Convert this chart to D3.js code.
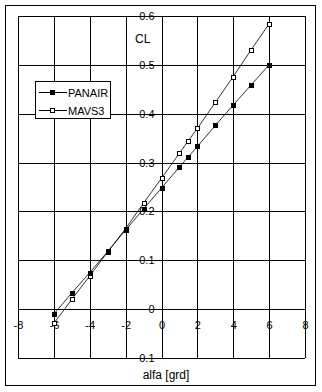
<!DOCTYPE html>
<html>
<head>
<meta charset="utf-8">
<script src="https://cdn.jsdelivr.net/npm/d3@7"></script>
<style>
  body { margin: 0; background: #fff; }
  svg text { font-family: "Liberation Sans", Arial, sans-serif; font-size: 11px; fill: #000; }
</style>
</head>
<body>
<svg id="chart" width="322" height="392"></svg>
<script>
// alpha values (deg) and lift coefficients
var alfa = [-6, -5, -4, -3, -2, -1, 0, 1, 1.5, 2, 3, 4, 5, 6];
var panair = [-0.01, 0.033, 0.075, 0.118, 0.162, 0.205, 0.248, 0.291, 0.312, 0.333, 0.376, 0.418, 0.459, 0.5];
var mavs3 = [-0.029, 0.02, 0.068, 0.117, 0.165, 0.217, 0.268, 0.319, 0.345, 0.37, 0.423, 0.476, 0.531, 0.584];
var xTicks = [-8, -6, -4, -2, 0, 2, 4, 6, 8];
var yTicks = [-0.1, 0, 0.1, 0.2, 0.3, 0.4, 0.5, 0.6];
var seriesNames = ['PANAIR', 'MAVS3'];

var svg = d3.select('#chart');

var x = d3.scaleLinear().domain([-8, 8]).range([18, 305]);
var y = d3.scaleLinear().domain([-0.1, 0.6]).range([358, 16]);

// outer frame
svg.append('rect')
    .attr('x', 5.5).attr('y', 5.5).attr('width', 310).attr('height', 380)
    .attr('fill', '#fff').attr('stroke', '#000');

var grid = svg.append('g').attr('shape-rendering', 'crispEdges').attr('stroke', '#000');

grid.selectAll('line.v').data(xTicks).enter().append('line')
    .attr('class', 'v')
    .attr('x1', d => Math.round(x(d)) + 0.5).attr('x2', d => Math.round(x(d)) + 0.5)
    .attr('y1', y(0.6)).attr('y2', y(-0.1));

grid.selectAll('line.h').data(yTicks).enter().append('line')
    .attr('class', 'h')
    .attr('y1', d => Math.round(y(d)) + 0.5).attr('y2', d => Math.round(y(d)) + 0.5)
    .attr('x1', x(-8)).attr('x2', x(8));

// tick labels sit on the axes through zero, lines run through them
svg.selectAll('text.yt').data(yTicks).enter().append('text')
    .attr('class', 'yt')
    .attr('x', x(0) - 7)
    .attr('y', d => y(d) + 4)
    .attr('text-anchor', 'end')
    .text(d => d === 0 ? '0' : d3.format('.1f')(d));

svg.selectAll('text.xt').data(xTicks).enter().append('text')
    .attr('class', 'xt')
    .attr('x', d => x(d) + 0.5)
    .attr('y', y(0) + 20)
    .attr('text-anchor', 'middle')
    .text(d => d);

svg.append('text').attr('x', 135).attr('y', 43).style('font-size', '12px').text('CL');
svg.append('text').attr('x', 166).attr('y', 379).attr('text-anchor', 'middle')
    .style('font-size', '12px').text('alfa [grd]');

var line = d3.line().x(d => x(d[0])).y(d => y(d[1]));

function drawSeries(vals, filled) {
    var pts = alfa.map((a, i) => [a, vals[i]]);
    svg.append('path').datum(pts)
        .attr('d', line)
        .attr('fill', 'none').attr('stroke', '#000').attr('stroke-width', 0.8);
    var s = filled ? 5 : 4;
    svg.selectAll(null).data(pts).enter().append('rect')
        .attr('x', d => Math.round(x(d[0])) - s / 2 + (filled ? 0 : 0.5))
        .attr('y', d => Math.round(y(d[1])) - s / 2 + (filled ? 0 : 0.5))
        .attr('width', s).attr('height', s)
        .attr('shape-rendering', 'crispEdges')
        .attr('fill', filled ? '#000' : '#fff')
        .attr('stroke', filled ? 'none' : '#000').attr('stroke-width', 1);
}

drawSeries(mavs3, false);
drawSeries(panair, true);

// legend
var leg = svg.append('g');
leg.append('rect')
    .attr('x', 35.5).attr('y', 81.5).attr('width', 75).attr('height', 37)
    .attr('fill', '#fff').attr('stroke', '#000').attr('shape-rendering', 'crispEdges');
seriesNames.forEach(function (name, i) {
    var ly = i === 0 ? 92.5 : 110.5;
    leg.append('line').attr('x1', 39).attr('x2', 67).attr('y1', ly).attr('y2', ly)
        .attr('stroke', '#000').attr('shape-rendering', 'crispEdges');
    if (i === 0) {
        leg.append('rect').attr('x', 49.5).attr('y', ly - 2.5).attr('width', 5).attr('height', 5)
            .attr('fill', '#000').attr('shape-rendering', 'crispEdges');
    } else {
        leg.append('rect').attr('x', 50).attr('y', ly - 2).attr('width', 4).attr('height', 4)
            .attr('fill', '#fff').attr('stroke', '#000').attr('shape-rendering', 'crispEdges');
    }
    leg.append('text').attr('x', 68).attr('y', ly + 4).text(name);
});
</script>
</body>
</html>
